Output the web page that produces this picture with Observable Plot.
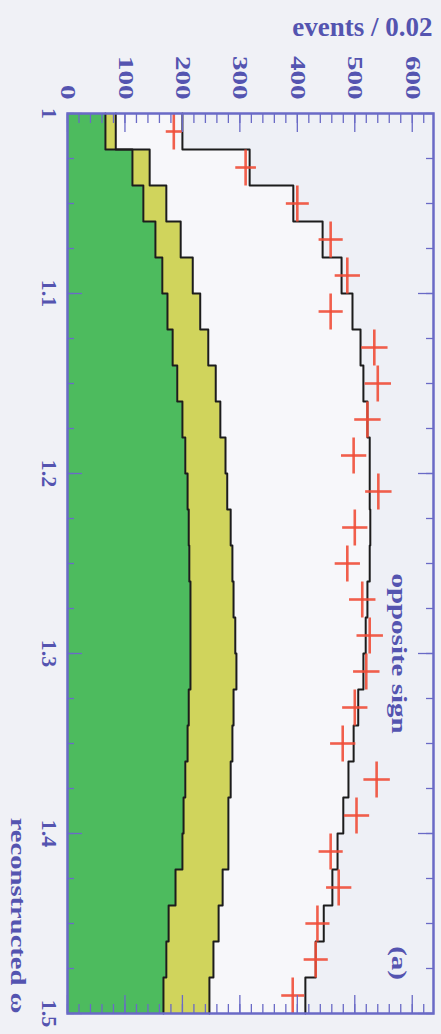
<!DOCTYPE html>
<html><head><meta charset="utf-8">
<script src="https://cdn.jsdelivr.net/npm/d3@7"></script>
<script src="https://cdn.jsdelivr.net/npm/@observablehq/plot@0.6"></script>
<style>
html,body{margin:0;padding:0;background:#f0f1f6;}
#chart{width:441px;height:1034px;overflow:hidden;}
</style></head><body><div id="chart"></div>
<script>
// bins of reconstructed mass (lower edges), width 0.02
const binLow = [1.00,1.02,1.04,1.06,1.08,1.10,1.12,1.14,1.16,1.18,1.20,1.22,1.24,1.26,1.28,1.30,1.32,1.34,1.36,1.38,1.40,1.42,1.44,1.46,1.48];
const binWidth = 0.02;
// data (events / 0.02) and their errors
const dataEvents = [185,310,400,458,487,458,534,540,522,498,541,500,487,513,526,520,500,479,538,503,458,472,435,432,392];
const dataErr    = [14,18,20,21,22,21,23,23,23,22,23,22,22,23,23,23,22,22,23,22,21,22,21,21,20];
// fit components: green (bottom), yellow (stacked on green), total fit
const greenComp  = [66,113,132,153,165,174,183,191,200,205,209,211,212,214,214,214,211,209,205,202,200,188,176,172,167];
const yellowComp = [18,30,40,44,53,57,62,67,66,70,69,73,75,75,78,80,78,78,79,78,80,82,87,82,80];
const totalFit   = [200,317,393,444,477,496,510,515,522,526,526,527,526,522,519,515,506,498,489,480,470,461,446,432,414];
// axis ticks & labels
const eventTicks = [0,100,200,300,400,500,600];
const eventTickLabels = ["0","100","200","300","400","500","600"];
const massTicks = [1.0,1.1,1.2,1.3,1.4,1.5];
const massTickLabels = ["1","1.1","1.2","1.3","1.4","1.5"];
const annotations = [{text:"opposite sign", m:1.30},{text:"(a)", m:1.472}];

const rows = [];
binLow.forEach((lo, i) => {
  const g = greenComp[i], yt = greenComp[i] + yellowComp[i], t = totalFit[i];
  rows.push({m: lo, g, yt, t});
  rows.push({m: lo + binWidth, g, yt, t});
});
const points = binLow.map((lo, i) => ({lo, hi: lo + binWidth, m: lo + binWidth/2, e: dataEvents[i], err: dataErr[i]}));

const blue = "#6a6ac6", txt = "#5454b0", green = "#4dbb5e", yellow = "#d0d45c", red = "#f04e38", ink = "#1c1c1c";
const font = "'Liberation Serif', 'DejaVu Serif', serif";
const tickOpts = {fill: "none", stroke: blue, strokeWidth: 1.3, label: null};

const plot = Plot.plot({
  width: 441, height: 1034,
  marginTop: 113, marginRight: 8, marginBottom: 21, marginLeft: 67,
  style: {background: "transparent", fontFamily: font},
  x: {domain: [0, 637], axis: null},
  y: {domain: [1, 1.5], reverse: true, axis: null},
  marks: [
    Plot.frame({fill: "#eef0f6", stroke: null}),
    Plot.areaX(rows, {y: "m", x1: 0, x2: "t", fill: "#f7f7fa"}),
    Plot.areaX(rows, {y: "m", x1: "g", x2: "yt", fill: yellow}),
    Plot.areaX(rows, {y: "m", x1: 0, x2: "g", fill: green}),
    Plot.lineX(rows, {y: "m", x: "g", stroke: ink, strokeWidth: 2}),
    Plot.lineX(rows, {y: "m", x: "yt", stroke: ink, strokeWidth: 2}),
    Plot.lineX(rows, {y: "m", x: "t", stroke: ink, strokeWidth: 2}),
    Plot.link(points, {x1: d => d.e - d.err, x2: d => d.e + d.err, y1: "m", y2: "m", stroke: red, strokeWidth: 2.6, strokeOpacity: 0.9}),
    Plot.link(points, {x1: "e", x2: "e", y1: "lo", y2: "hi", stroke: red, strokeWidth: 2.6, strokeOpacity: 0.9}),
    Plot.axisX({anchor: "top", ticks: d3.range(0, 637, 20), tickSize: -9, ...tickOpts}),
    Plot.axisX({anchor: "top", ticks: eventTicks, tickSize: -18, ...tickOpts}),
    Plot.axisX({anchor: "bottom", ticks: d3.range(0, 637, 20), tickSize: -9, ...tickOpts}),
    Plot.axisX({anchor: "bottom", ticks: eventTicks, tickSize: -18, ...tickOpts}),
    Plot.axisY({anchor: "left", ticks: d3.range(1, 1.5001, 0.025), tickSize: -7, ...tickOpts}),
    Plot.axisY({anchor: "left", ticks: massTicks, tickSize: -15, ...tickOpts}),
    Plot.axisY({anchor: "right", ticks: d3.range(1, 1.5001, 0.025), tickSize: -8, ...tickOpts}),
    Plot.axisY({anchor: "right", ticks: massTicks, tickSize: -16, ...tickOpts}),
    Plot.frame({stroke: blue, strokeWidth: 2.5}),
    Plot.text(eventTicks, {x: d => d, text: (d, i) => eventTickLabels[i], frameAnchor: "top", lineAnchor: "middle", dy: -14, rotate: 90, textAnchor: "end",
      fontSize: 20, fontWeight: "bold", fill: txt, ariaDescription: "stretch145"}),
    Plot.text(massTicks, {y: d => d, text: (d, i) => massTickLabels[i], frameAnchor: "left", lineAnchor: "middle", dx: -19, rotate: 90, textAnchor: "middle",
      fontSize: 20, fontWeight: "bold", fill: txt, ariaDescription: "stretch110"}),
    Plot.text(["events / 0.02"], {frameAnchor: "top-right", lineAnchor: "middle", dy: -86, dx: -1, textAnchor: "end", fontSize: 27, fontWeight: "bold", fill: txt}),
    Plot.text(["reconstructed ω"], {frameAnchor: "bottom-left", lineAnchor: "middle", dx: -49, rotate: 90, textAnchor: "end", fontSize: 22, fontWeight: "bold", fill: txt, ariaDescription: "stretch130"}),
    Plot.text(annotations, {y: "m", text: "text", frameAnchor: "right", lineAnchor: "middle", dx: -35, rotate: 90, textAnchor: "middle", fontSize: 20, fontWeight: "bold", fill: txt, ariaDescription: "stretch145"})
  ]
});

const stretch = (label, s) => d3.select(plot).selectAll(`g[aria-description="${label}"] text`).each(function() {
  const t = this.getAttribute("transform");
  if (t) this.setAttribute("transform", t + ` scale(${s},1)`);
});
stretch("stretch145", 1.45);
stretch("stretch110", 1.1);
stretch("stretch130", 1.3);
document.getElementById("chart").appendChild(plot);
</script></body></html>
